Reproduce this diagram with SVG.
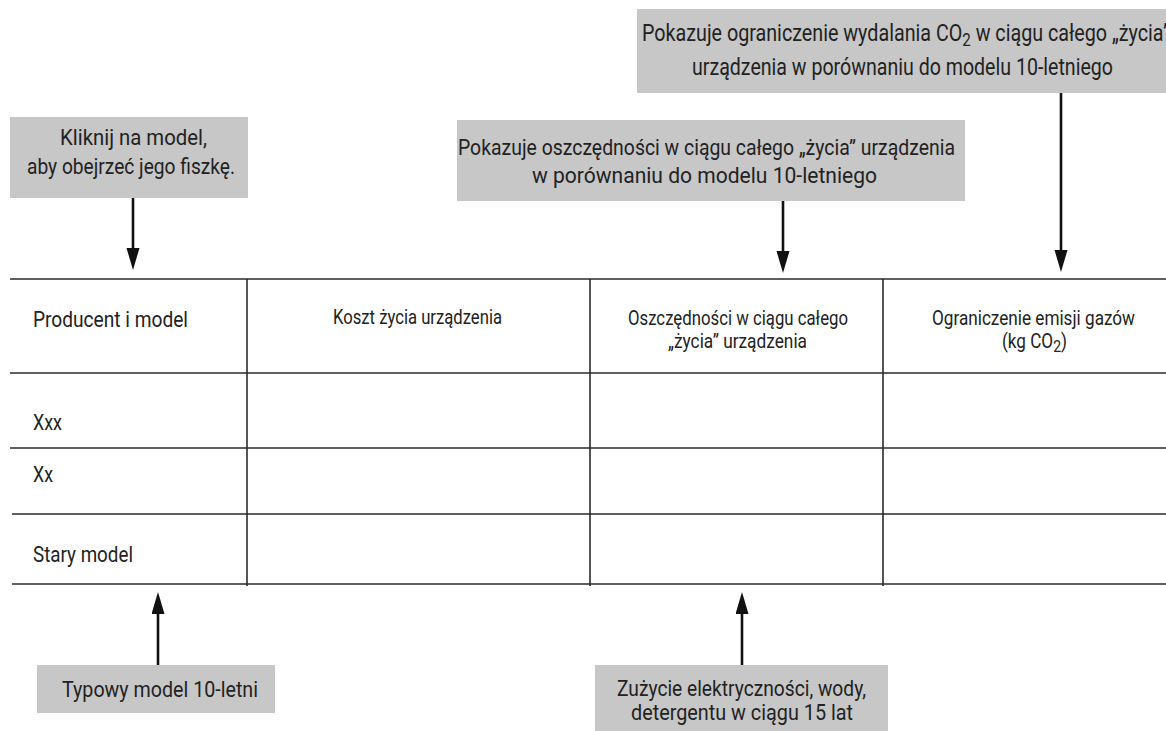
<svg xmlns="http://www.w3.org/2000/svg" width="1166" height="731" viewBox="0 0 1166 731">
  <defs>
    <style>
      .box { fill: #c7c7c7; }
      .t { font-family: Roboto, "Liberation Sans", sans-serif; font-weight: 400; fill: #222; }
      .a { font-size: 22px; }
      .h { font-size: 19.5px; }
      .r { font-size: 22.5px; }
      .grid { stroke: #2a2a2a; stroke-width: 1.6; fill: none; }
      .conn { stroke: #111; stroke-width: 2.6; fill: none; }
    </style>
    <marker id="ah" markerUnits="userSpaceOnUse" markerWidth="24" markerHeight="14" refX="12" refY="6.5" orient="auto">
      <path d="M0,0 L22,6.5 L0,13 z" fill="#111"/>
    </marker>
  </defs>

  <rect width="1166" height="731" fill="#fff"/>

  <g id="note-co2">
    <rect class="box" x="637" y="9" width="540" height="84"/>
    <text class="t" font-size="23.5" x="642" y="41" textLength="528" lengthAdjust="spacingAndGlyphs">Pokazuje ograniczenie wydalania CO<tspan baseline-shift="-5" font-size="18">2</tspan> w ciągu całego „życia”</text>
    <text class="t" font-size="23.5" x="692" y="75" textLength="421" lengthAdjust="spacingAndGlyphs">urządzenia w porównaniu do modelu 10-letniego</text>
  </g>

  <g id="note-click">
    <rect class="box" x="10" y="117" width="238" height="81"/>
    <text class="t a" x="60" y="145" textLength="147" lengthAdjust="spacingAndGlyphs">Kliknij na model,</text>
    <text class="t a" x="27" y="174" textLength="208" lengthAdjust="spacingAndGlyphs">aby obejrzeć jego fiszkę.</text>
  </g>

  <g id="note-savings">
    <rect class="box" x="457" y="120" width="508" height="81"/>
    <text class="t a" x="458" y="155" textLength="497" lengthAdjust="spacingAndGlyphs">Pokazuje oszczędności w ciągu całego „życia” urządzenia</text>
    <text class="t a" x="532" y="183" textLength="345" lengthAdjust="spacingAndGlyphs">w porównaniu do modelu 10-letniego</text>
  </g>

  <g id="table">
    <g class="grid">
      <line x1="10" y1="279" x2="1166" y2="279"/>
      <line x1="10" y1="373" x2="1166" y2="373"/>
      <line x1="10" y1="448" x2="1166" y2="448"/>
      <line x1="12" y1="514" x2="1166" y2="514"/>
      <line x1="12" y1="584" x2="1166" y2="584"/>
      <line x1="247" y1="279" x2="247" y2="586"/>
      <line x1="590" y1="279" x2="590" y2="586"/>
      <line x1="883" y1="279" x2="883" y2="586"/>
    </g>
    <text class="t r" x="33" y="327" textLength="155" lengthAdjust="spacingAndGlyphs">Producent i model</text>
    <text class="t h" x="333" y="324" textLength="169" lengthAdjust="spacingAndGlyphs">Koszt życia urządzenia</text>
    <text class="t h" x="628" y="325" textLength="220" lengthAdjust="spacingAndGlyphs">Oszczędności w ciągu całego</text>
    <text class="t h" x="668" y="348" textLength="139" lengthAdjust="spacingAndGlyphs">„życia” urządzenia</text>
    <text class="t h" x="932" y="325" textLength="203" lengthAdjust="spacingAndGlyphs">Ograniczenie emisji gazów</text>
    <text class="t h" x="1002" y="348" textLength="65" lengthAdjust="spacingAndGlyphs">(kg CO<tspan baseline-shift="-4" font-size="16">2</tspan>)</text>
    <text class="t r" x="33" y="430" textLength="29" lengthAdjust="spacingAndGlyphs">Xxx</text>
    <text class="t r" x="33" y="482" textLength="20" lengthAdjust="spacingAndGlyphs">Xx</text>
    <text class="t r" x="33" y="562" textLength="100" lengthAdjust="spacingAndGlyphs">Stary model</text>
  </g>

  <g id="note-typical">
    <rect class="box" x="37" y="665" width="238" height="48"/>
    <text class="t r" x="62" y="697" textLength="196" lengthAdjust="spacingAndGlyphs">Typowy model 10-letni</text>
  </g>

  <g id="note-usage">
    <rect class="box" x="595" y="665" width="293" height="66"/>
    <text class="t r" x="617" y="696" textLength="249" lengthAdjust="spacingAndGlyphs">Zużycie elektryczności, wody,</text>
    <text class="t r" x="631" y="720" textLength="222" lengthAdjust="spacingAndGlyphs">detergentu w ciągu 15 lat</text>
  </g>

  <g id="connectors" class="conn">
    <line class="conn" x1="133" y1="198" x2="133" y2="260" marker-end="url(#ah)"/>
    <line class="conn" x1="783" y1="201" x2="783" y2="263" marker-end="url(#ah)"/>
    <line class="conn" x1="1061" y1="93" x2="1061" y2="262" marker-end="url(#ah)"/>
    <line class="conn" x1="158" y1="665" x2="158" y2="602" marker-end="url(#ah)"/>
    <line class="conn" x1="742" y1="665" x2="742" y2="602" marker-end="url(#ah)"/>
  </g>
</svg>
